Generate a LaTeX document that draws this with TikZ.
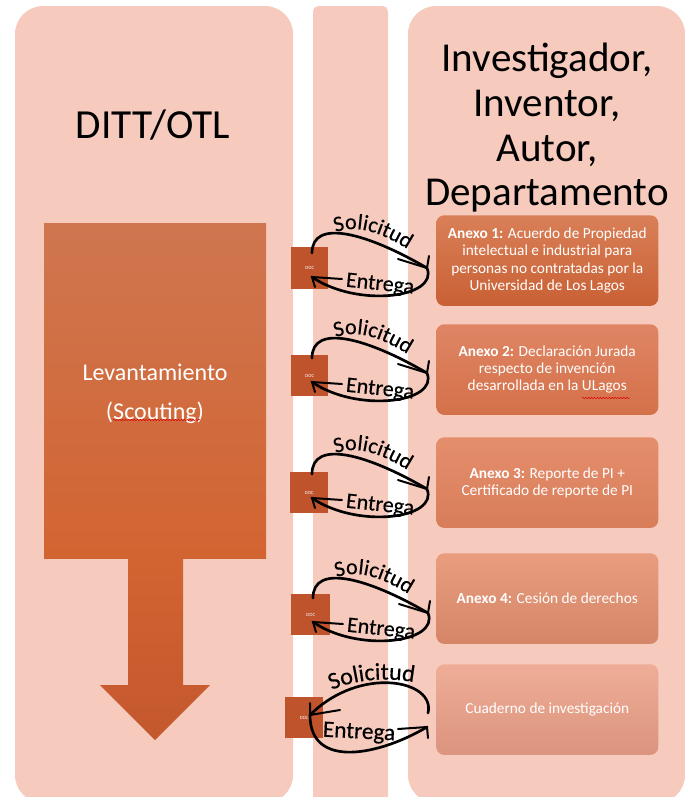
\documentclass[tikz,border=0pt]{standalone}
\usepackage{fontspec}
\setmainfont{Carlito}
\newfontfamily\handfont[FakeBold=0.5]{Carlito}
\usetikzlibrary{calc,decorations.text,decorations.pathmorphing}
\definecolor{colbg}{HTML}{F6CBBD}
\definecolor{docc}{HTML}{BF532C}
\tikzset{
  annex/.style={anchor=north west,draw=none,rounded corners=6pt,minimum width=166.5pt,minimum height=68pt,inner sep=2pt,text=white,align=center,font=\fontsize{11.5}{13}\selectfont},
  docbox/.style={anchor=north west,fill=docc,draw=none,text=white,inner sep=0pt,font=\fontsize{3.6}{4}\selectfont},
  title/.style={align=center,text=black},
  link/.style={draw=black,line width=2pt,line cap=round},
  barb/.style={draw=black,line width=1.5pt,line cap=round,line join=miter},
  curvetext/.style={postaction={decorate}},
  squiggle/.style={draw=red!85!black,line width=.35pt,decorate,decoration={snake,segment length=2.2pt,amplitude=.5pt}}
}
\newcommand{\docnode}[5]{\node[docbox,minimum width=#4*.75pt,minimum height=#5*.75pt] (#1) at (#2,#3) {DOC};}
\newcommand{\looplinks}[2]{%
  % #1 doc node, #2 free end on the right
  \coordinate (s#1) at ($(#2)+(-115,-15)$);
  \coordinate (r#1) at ($(#2)+(-115,9)$);
  \draw[link] (s#1) .. controls ($(#2)+(-115,-50)$) and ($(#2)+(-60,-35)$) .. (#2);
  \draw[barb] ($(#2)+(-29,-9)$) -- (#2) -- ($(#2)+(2,-12)$);
  \draw[link] (#2) .. controls ($(#2)+(12,30)$) and ($(#2)+(-70,40)$) .. (r#1);
  \draw[barb] ($(r#1)+(30,2)$) -- (r#1) -- ($(r#1)+(3,10)$);
  \path[curvetext,decoration={text along path,text align=center,text={|\handfont\fontsize{16.5}{18}\selectfont|Solicitud}}]
    ($(#2)+(-93,-35)$) .. controls ($(#2)+(-70,-45)$) and ($(#2)+(-45,-35)$) .. ($(#2)+(-18,-18)$);
  \node[font=\handfont\fontsize{16.5}{18}\selectfont,rotate=-6] at ($(#2)+(-47,17)$) {Entrega};
}
\begin{document}
\begin{tikzpicture}[x=.75pt,y=-.75pt]
\useasboundingbox (0,0) rectangle (685,797);
\clip (0,0) rectangle (685,797);
% columns
\fill[colbg,rounded corners=21pt] (15,6) rectangle (293,803);
\fill[colbg,rounded corners=4pt] (313,6) rectangle (388,812);
\fill[colbg,rounded corners=21pt] (408,6) rectangle (685,803);
% titles
\node[title,font=\fontsize{31}{33.5}\selectfont] (ditt) at (153,125) {DITT/OTL};
\node[title,font=\fontsize{30.8}{33.5}\selectfont] (inv) at (547,128) {Investigador,\\Inventor,\\Autor,\\Departamento};
% main block and arrow
\path[top color={rgb,255:red,207;green,118;blue,80},bottom color={rgb,255:red,210;green,100;blue,49}] (44,223) rectangle (266,558);
\node[text=white,align=center,font=\fontsize{18}{29.3}\selectfont] (lev) at (155,394) {Levantamiento\\(Scouting)};
\path[squiggle] (113,420) -- (200,420);
\path[top color={rgb,255:red,210;green,100;blue,49},bottom color={rgb,255:red,196;green,88;blue,46}] (128,558) -- (183,558) -- (183,685) -- (210,685) -- (155,740) -- (100,685) -- (128,685) -- cycle;
% annex boxes
\node[annex,top color={rgb,255:red,217;green,127;blue,88},bottom color={rgb,255:red,201;green,96;blue,52}] (a1) at (436,215) {\textbf{Anexo 1:} Acuerdo de Propiedad\\intelectual e industrial para\\personas no contratadas por la\\Universidad de Los Lagos};
\node[annex,top color={rgb,255:red,223;green,133;blue,100},bottom color={rgb,255:red,212;green,113;blue,74}] (a2) at (436,324) {\textbf{Anexo 2:} Declaración Jurada\\respecto de invención\\desarrollada en la ULagos};
\node[annex,top color={rgb,255:red,229;green,142;blue,108},bottom color={rgb,255:red,216;green,125;blue,90}] (a3) at (436,437) {\textbf{Anexo 3:} Reporte de PI +\\Certificado de reporte de PI};
\node[annex,top color={rgb,255:red,233;green,156;blue,126},bottom color={rgb,255:red,213;green,134;blue,104}] (a4) at (436,553) {\textbf{Anexo 4:} Cesión de derechos};
\node[annex,top color={rgb,255:red,239;green,173;blue,151},bottom color={rgb,255:red,219;green,148;blue,125}] (a5) at (436,664) {Cuaderno de investigación};
\path[squiggle] (582,398) -- (630,398);
% documents
\docnode{d1}{291}{247}{37}{42}
\docnode{d2}{291}{355}{37}{41}
\docnode{d3}{290}{472}{38}{41}
\docnode{d4}{291}{594}{39}{41}
\docnode{d5}{285}{697}{38}{41}
% links
\coordinate (e1) at (427,268);
\coordinate (e2) at (427,373);
\coordinate (e3) at (427,489);
\coordinate (e4) at (428,613);
\coordinate (e5) at (428,713);
\coordinate (f5) at (427,727);
\coordinate (t5) at (310,715);
\looplinks{d1}{e1}
\looplinks{d2}{e2}
\looplinks{d3}{e3}
\looplinks{d4}{e4}
\draw[link] (e5) .. controls (436,680) and (360,665) .. (t5);
\draw[barb] (340,710) -- (t5) -- (310,703);
\draw[link] (t5) .. controls (310,770) and (380,755) .. (f5);
\draw[barb] (398,729) -- (f5) -- (428,738);
\path[curvetext,decoration={text along path,text align=center,text={|\handfont\fontsize{18}{20}\selectfont|Solicitud}}]
  (328,692) .. controls (350,680) and (385,676) .. (418,683);
\node[font=\handfont\fontsize{17.5}{20}\selectfont,rotate=-3] at (359,733) {Entrega};
\end{tikzpicture}
\end{document}
